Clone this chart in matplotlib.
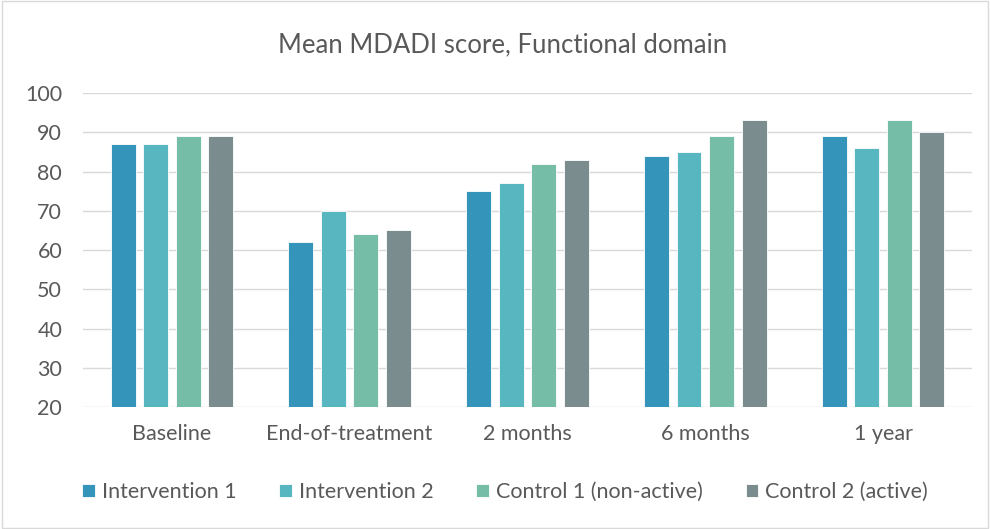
import matplotlib
matplotlib.use("Agg")
import matplotlib.pyplot as plt
import numpy as np
from matplotlib.patches import Rectangle

categories = ["Baseline", "End-of-treatment", "2 months", "6 months", "1 year"]
series_names = ["Intervention 1", "Intervention 2", "Control 1 (non-active)", "Control 2 (active)"]
intervention_1 = [87, 62, 75, 84, 89]
intervention_2 = [87, 70, 77, 85, 86]
control_1 = [89, 64, 82, 89, 93]
control_2 = [89, 65, 83, 93, 90]
yticks = [20, 30, 40, 50, 60, 70, 80, 90, 100]

colors = ["#3494BA", "#58B6C0", "#75BDA7", "#7A8C8E"]
text_color = "#595959"

plt.rcParams["font.family"] = ["Lato", "DejaVu Sans"]

fig = plt.figure(figsize=(9.9, 5.29), dpi=100)
fig.patches.append(Rectangle((0.002, 0.002), 0.996, 0.996, transform=fig.transFigure,
                             fill=False, edgecolor="#D9D9D9", linewidth=1))
ax = fig.add_axes([0.0838, 0.2306, 0.898, 0.5936])

x = np.arange(len(categories))
width = 0.14
pitch = 0.183
all_series = [intervention_1, intervention_2, control_1, control_2]
for i, (vals, name, c) in enumerate(zip(all_series, series_names, colors)):
    offs = (i - 1.5) * pitch
    ax.bar(x + offs, np.array(vals) - 20, width, bottom=20, color=c,
           edgecolor="white", linewidth=0.6, label=name, zorder=3)

ax.set_xlim(-0.5, len(categories) - 0.5)
ax.set_ylim(20, 100)
ax.set_yticks(yticks)
ax.set_xticks(x)
ax.set_xticklabels(categories)
ax.grid(axis="y", color="#D9D9D9", linewidth=1, zorder=0)
for s in ax.spines.values():
    s.set_visible(False)
ax.tick_params(axis="both", length=0, labelsize=15.5, colors=text_color)
ax.tick_params(axis="x", pad=12)
ax.tick_params(axis="y", pad=15)

fig.text(0.508, 0.915, "Mean MDADI score, Functional domain", fontsize=18.5,
         color=text_color, ha="center", va="center")

leg = fig.legend(loc="center", bbox_to_anchor=(0.51, 0.07), ncol=4, frameon=False,
                 fontsize=15.5, handlelength=0.6, handleheight=0.6, handletextpad=0.3,
                 columnspacing=2.0)
for t in leg.get_texts():
    t.set_color(text_color)

fig.savefig("out.png", dpi=100)
